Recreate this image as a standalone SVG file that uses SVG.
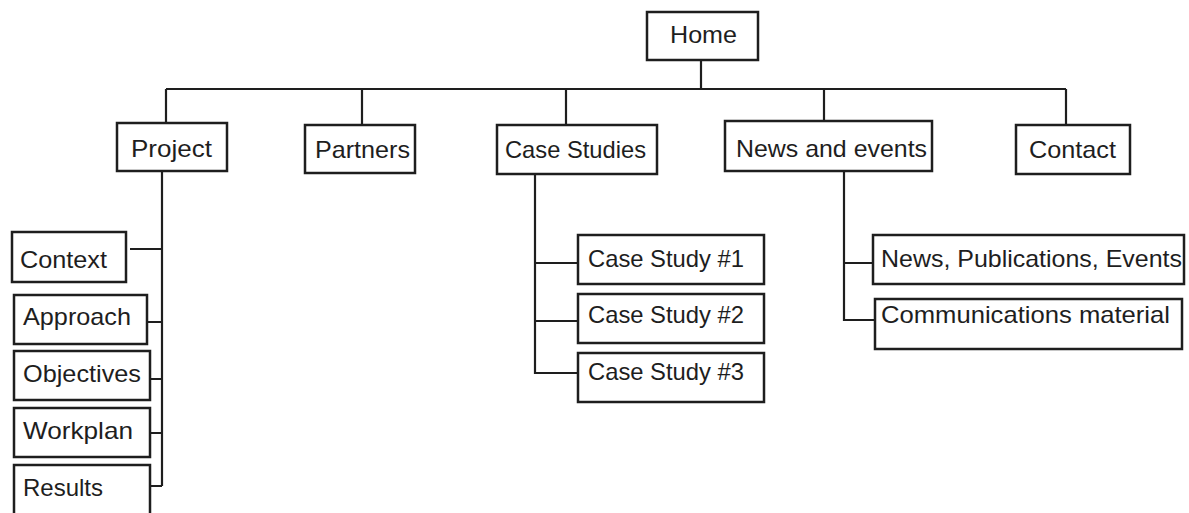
<svg xmlns="http://www.w3.org/2000/svg" width="1189" height="513" viewBox="0 0 1189 513">
<style>
rect{fill:#fff;stroke:#1e1e1e;stroke-width:2.5}
text{font-family:"Liberation Sans",Arial,sans-serif;font-size:24px;fill:#1e1e1e}
.c{fill:none;stroke:#1e1e1e;stroke-width:2.2}
</style>
<rect x="0" y="0" width="1189" height="513" style="fill:#fff;stroke:none"/>
<g id="connectors">
<path class="c" d="M701 60V89M166 89H1066M166 89V123M362 89V125M566 89V125M824 89V121M1066 89V125"/>
<path class="c" d="M162 171V486M130 249H162M147 322H162M150 379H162M150 433H162M150 486H162"/>
<path class="c" d="M535 174V373H578M535 263H578M535 321H578"/>
<path class="c" d="M844 171V320H875M844 263H873"/>
</g>
<g id="home"><rect x="647" y="12" width="111" height="48"/><text x="670" y="43" textLength="67" lengthAdjust="spacingAndGlyphs">Home</text></g>
<g id="project"><rect x="117" y="123" width="110" height="48"/><text x="131" y="157" textLength="81" lengthAdjust="spacingAndGlyphs">Project</text></g>
<g id="partners"><rect x="305" y="125" width="110" height="48"/><text x="315" y="158" textLength="95" lengthAdjust="spacingAndGlyphs">Partners</text></g>
<g id="case-studies"><rect x="497" y="125" width="160" height="49"/><text x="505" y="158" textLength="141" lengthAdjust="spacingAndGlyphs">Case Studies</text></g>
<g id="news-events"><rect x="725" y="121" width="207" height="50"/><text x="736" y="157" textLength="191" lengthAdjust="spacingAndGlyphs">News and events</text></g>
<g id="contact"><rect x="1016" y="125" width="114" height="49"/><text x="1029" y="158" textLength="87" lengthAdjust="spacingAndGlyphs">Contact</text></g>
<g id="context"><rect x="12" y="232" width="114" height="50"/><text x="20" y="268" textLength="87" lengthAdjust="spacingAndGlyphs">Context</text></g>
<g id="approach"><rect x="14" y="295" width="133" height="49"/><text x="23" y="325" textLength="108" lengthAdjust="spacingAndGlyphs">Approach</text></g>
<g id="objectives"><rect x="14" y="351" width="136" height="49"/><text x="23" y="382" textLength="118" lengthAdjust="spacingAndGlyphs">Objectives</text></g>
<g id="workplan"><rect x="14" y="408" width="136" height="49"/><text x="23" y="439" textLength="110" lengthAdjust="spacingAndGlyphs">Workplan</text></g>
<g id="results"><rect x="14" y="465" width="136" height="60"/><text x="23" y="496" textLength="80" lengthAdjust="spacingAndGlyphs">Results</text></g>
<g id="case-study-1"><rect x="578" y="235" width="186" height="49"/><text x="588" y="267" textLength="156" lengthAdjust="spacingAndGlyphs">Case Study #1</text></g>
<g id="case-study-2"><rect x="578" y="294" width="186" height="49"/><text x="588" y="323" textLength="156" lengthAdjust="spacingAndGlyphs">Case Study #2</text></g>
<g id="case-study-3"><rect x="578" y="353" width="186" height="49"/><text x="588" y="380" textLength="156" lengthAdjust="spacingAndGlyphs">Case Study #3</text></g>
<g id="news-publications-events"><rect x="873" y="235" width="311" height="49"/><text x="881" y="267" textLength="301" lengthAdjust="spacingAndGlyphs">News, Publications, Events</text></g>
<g id="communications-material"><rect x="875" y="299" width="307" height="50"/><text x="881" y="323" textLength="289" lengthAdjust="spacingAndGlyphs">Communications material</text></g>
</svg>
